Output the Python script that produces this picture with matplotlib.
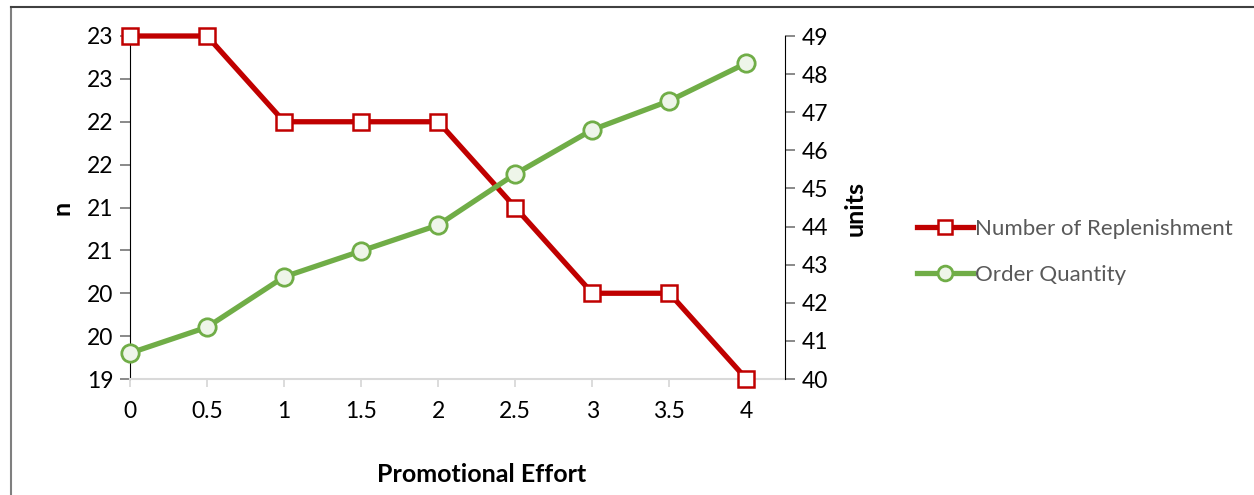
import numpy as np
import matplotlib.pyplot as plt
from matplotlib.ticker import FuncFormatter
from matplotlib.lines import Line2D

effort = [0, 0.5, 1, 1.5, 2, 2.5, 3, 3.5, 4]
replenishment = [23, 23, 22, 22, 22, 21, 20, 20, 19]
order_qty = [40.68, 41.36, 42.68, 43.36, 44.04, 45.38, 46.54, 47.30, 48.29]

plt.rcParams['font.family'] = ['Lato', 'DejaVu Sans']

red = '#C00000'
green = '#70AD47'

fig = plt.figure(figsize=(12.54, 4.95), dpi=100)
ax = fig.add_axes([130 / 1254, 1 - 379 / 495, 655 / 1254, 343 / 495])
ax2 = ax.twinx()

ax.plot(effort, replenishment, color=red, lw=3.8, marker='s', ms=12,
        mfc='white', mec=red, mew=1.8, zorder=3, clip_on=False,
        label='Number of Replenishment')
ax2.plot(effort, order_qty, color=green, lw=3.8, marker='o', ms=12.5,
         mfc='#EEF5E9', mec=green, mew=2, zorder=3, clip_on=False,
         label='Order Quantity')

ax.set_xlim(0, 4.25)
ax.set_ylim(19, 23)
ax2.set_ylim(40, 49)
ax.set_xticks(effort)
ax.set_xticklabels(['0', '0.5', '1', '1.5', '2', '2.5', '3', '3.5', '4'])
ax.set_yticks(np.arange(19, 23.01, 0.5))
ax.yaxis.set_major_formatter(FuncFormatter(lambda v, p: str(int(np.floor(v + 0.5)))))
ax2.set_yticks(range(40, 50))

for s in ['top', 'right']:
    ax.spines[s].set_visible(False)
ax2.spines['top'].set_visible(False)
ax2.spines['left'].set_visible(False)
ax2.spines['bottom'].set_visible(False)
ax.spines['bottom'].set_color('#d9d9d9')
ax.spines['bottom'].set_linewidth(1.5)
ax.spines['left'].set_color('black')
ax2.spines['right'].set_color('black')

ax.tick_params(axis='x', length=6, width=1.3, color='#d9d9d9', labelsize=16.5, pad=10)
ax.tick_params(axis='y', length=7, width=1.3, color='#808080', labelsize=16.5, pad=5)
ax2.tick_params(axis='y', length=7, width=1.3, color='#808080', labelsize=16.5, pad=5)

fig.text(62 / 1254, 1 - 208 / 495, 'n', rotation=90, ha='center', va='center',
         fontsize=18, fontweight='bold')
fig.text(855 / 1254, 1 - 208 / 495, 'units', rotation=90, ha='center', va='center',
         fontsize=18, fontweight='bold')
fig.text(482 / 1254, 1 - 474 / 495, 'Promotional Effort', ha='center', va='center',
         fontsize=18, fontweight='bold')

h1, l1 = ax.get_legend_handles_labels()
h2, l2 = ax2.get_legend_handles_labels()
leg = fig.legend(h1 + h2, l1 + l2, loc='center left', bbox_to_anchor=(897 / 1254, 1 - 252 / 495),
                 frameon=False, fontsize=16, handlelength=2.5, handletextpad=0.1,
                 labelspacing=1.15, markerscale=0.85)
for t in leg.get_texts():
    t.set_color('#595959')

# chart border (top and left edges visible)
fig.add_artist(Line2D([11 / 1254, 11 / 1254], [0, 1 - 7 / 495], color='#7f7f7f', lw=1.5))
fig.add_artist(Line2D([11 / 1254, 1], [1 - 7 / 495, 1 - 7 / 495], color='#404040', lw=1.5))

fig.savefig('out.png', dpi=100)
